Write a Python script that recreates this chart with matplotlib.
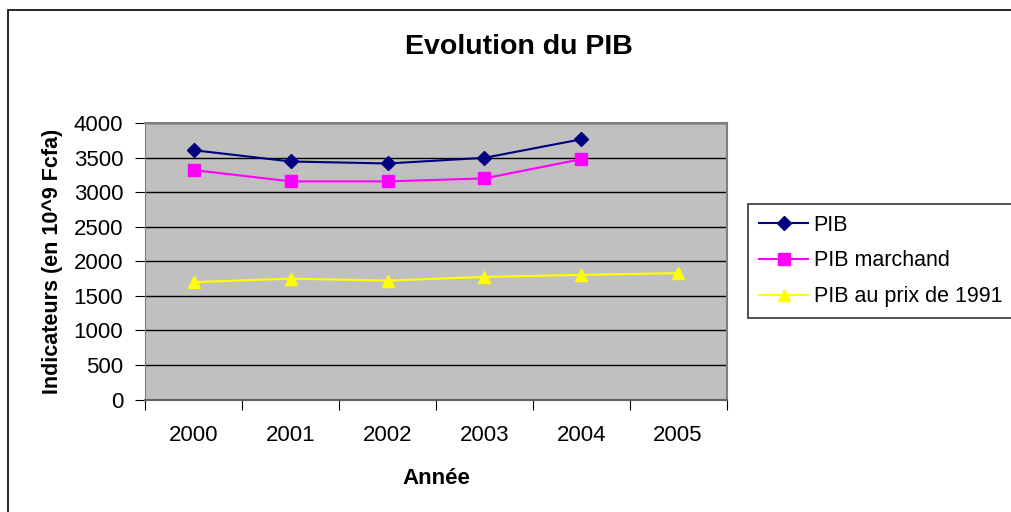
import numpy as np
import matplotlib
matplotlib.use("Agg")
import matplotlib.pyplot as plt
from matplotlib.patches import Rectangle

plt.rcParams['font.family'] = ['Liberation Sans', 'DejaVu Sans']

annees = ['2000', '2001', '2002', '2003', '2004', '2005']
pib = [3610, 3447, 3418, 3500, 3768]
pib_marchand = [3322, 3159, 3159, 3202, 3480]
pib_1991 = [1700, 1750, 1722, 1775, 1805, 1830]
yticks = [0, 500, 1000, 1500, 2000, 2500, 3000, 3500, 4000]

fig = plt.figure(figsize=(10.11, 5.12), dpi=100)
fig.patch.set_facecolor('white')

# outer chart border (runs off the right and bottom edge)
fig.patches.append(Rectangle((8 / 1011, -0.05), 1.1, 1 - 10 / 512 + 0.05,
                             transform=fig.transFigure, fill=False,
                             edgecolor='black', lw=1.2))

ax = fig.add_axes([0.1439, 0.2197, 0.5747, 0.5395])
ax.set_facecolor('#C0C0C0')

x = np.arange(len(annees)) + 0.5
ax.plot(x[:len(pib)], pib, color='#000080', marker='D', markersize=7,
        lw=1.5, label='PIB', zorder=3)
ax.plot(x[:len(pib_marchand)], pib_marchand, color='#FF00FF', marker='s',
        markersize=8, lw=1.5, label='PIB marchand', zorder=3)
ax.plot(x, pib_1991, color='#FFFF00', marker='^', markersize=9,
        lw=1.5, label='PIB au prix de 1991', zorder=3)

ax.set_xlim(0, 6)
ax.set_ylim(0, 4000)
ax.set_yticks(yticks)
ax.set_yticklabels([str(v) for v in yticks], fontsize=16)
ax.yaxis.grid(True, color='black', lw=1)
ax.set_axisbelow(True)

ax.set_xticks(np.arange(0, 7))
ax.set_xticklabels([])
ax.set_xticks(x, minor=True)
ax.set_xticklabels(annees, minor=True, fontsize=16)
ax.tick_params(axis='x', which='major', direction='out', length=7, color='black')
ax.tick_params(axis='x', which='minor', length=0, pad=18)
ax.tick_params(axis='y', direction='out', length=7, pad=9)

for side in ['top', 'right']:
    ax.spines[side].set_color('#808080')
    ax.spines[side].set_linewidth(1.5)
ax.spines['left'].set_color('#808080')
ax.spines['bottom'].set_color('#606060')
ax.spines['bottom'].set_linewidth(1.5)

ax.set_ylabel('Indicateurs (en 10^9 Fcfa)', fontsize=15.5, fontweight='bold',
              labelpad=8)
ax.set_xlabel('Année', fontsize=16, fontweight='bold', labelpad=16)

fig.text(0.513, 0.908, 'Evolution du PIB', fontsize=20.5, fontweight='bold',
         ha='center', va='center')

leg = fig.legend(loc='upper left', bbox_to_anchor=(748 / 1011, 1 - 204 / 512),
                 fontsize=15.5, frameon=True, fancybox=False, edgecolor='black',
                 borderpad=0.5, labelspacing=0.68, handlelength=2.3,
                 handletextpad=0.25, borderaxespad=0)
leg.get_frame().set_linewidth(1.2)

fig.savefig('out.png', dpi=100)
